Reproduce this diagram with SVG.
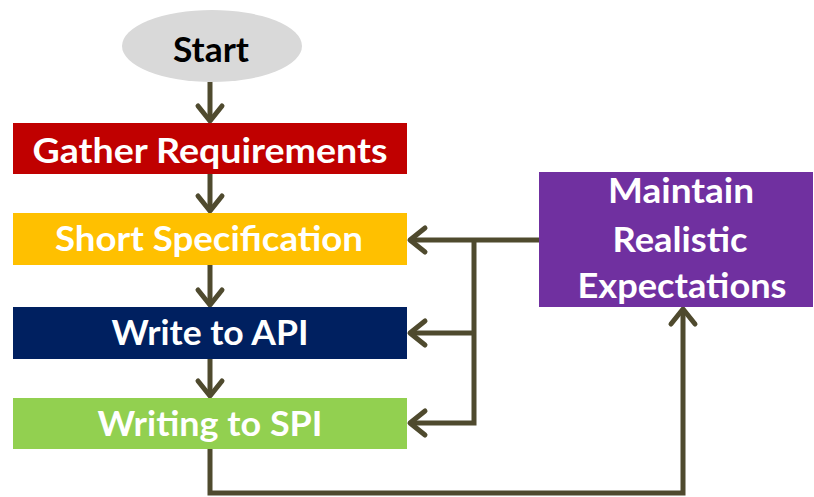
<svg xmlns="http://www.w3.org/2000/svg" width="814" height="497" viewBox="0 0 814 497">
<style>
.t{font-family:Lato,"Open Sans","Liberation Sans",sans-serif;font-weight:bold;font-size:34px;fill:#fff;text-anchor:middle}
.d{fill:#000}
.c{fill:none;stroke:#4f4a2e;stroke-width:5;stroke-linejoin:miter}
</style>
<defs>
<marker id="ah" markerUnits="userSpaceOnUse" viewBox="-20 -16 26 32" markerWidth="26" markerHeight="32" refX="0" refY="0" orient="auto" overflow="visible">
<path d="M-15,-12 L0,0 L-15,12" fill="none" stroke="#4f4a2e" stroke-width="5" stroke-linecap="round" stroke-linejoin="round"/>
</marker>
</defs>
<rect width="814" height="497" fill="#fff"/>
<g id="connectors">
<path class="c" d="M210,82 V121" marker-end="url(#ah)"/>
<path class="c" d="M210,174 V211" marker-end="url(#ah)"/>
<path class="c" d="M210,265 V305" marker-end="url(#ah)"/>
<path class="c" d="M210,359 V396" marker-end="url(#ah)"/>
<path class="c" d="M539,240 H410" marker-end="url(#ah)"/>
<path class="c" d="M474,240 V423 H410" marker-end="url(#ah)"/>
<path class="c" d="M474,333 H410" marker-end="url(#ah)"/>
<path class="c" d="M210,449 V493 H683 V309" marker-end="url(#ah)"/>
</g>
<g id="start">
<ellipse cx="212" cy="46" rx="90" ry="36" fill="#d9d9d9"/>
<text class="t d" x="211" y="62" textLength="76" lengthAdjust="spacingAndGlyphs">Start</text>
</g>
<g id="gather">
<rect x="13" y="123" width="394" height="51" fill="#c00000"/>
<text class="t" x="210" y="163" textLength="355" lengthAdjust="spacingAndGlyphs">Gather Requirements</text>
</g>
<g id="short">
<rect x="13" y="213" width="394" height="52" fill="#ffc000"/>
<text class="t" x="209" y="251" textLength="308" lengthAdjust="spacingAndGlyphs">Short Specification</text>
</g>
<g id="api">
<rect x="13" y="307" width="394" height="52" fill="#002060"/>
<text class="t" x="210" y="345" textLength="197" lengthAdjust="spacingAndGlyphs">Write to API</text>
</g>
<g id="spi">
<rect x="13" y="398" width="394" height="51" fill="#92d050"/>
<text class="t" x="210" y="436" textLength="225" lengthAdjust="spacingAndGlyphs">Writing to SPI</text>
</g>
<g id="maintain">
<rect x="539" y="172" width="274" height="135" fill="#7030a0"/>
<text class="t" x="681" y="203" textLength="146" lengthAdjust="spacingAndGlyphs">Maintain</text>
<text class="t" x="680" y="252" textLength="135" lengthAdjust="spacingAndGlyphs">Realistic</text>
<text class="t" x="682" y="298" textLength="209" lengthAdjust="spacingAndGlyphs">Expectations</text>
</g>
</svg>
